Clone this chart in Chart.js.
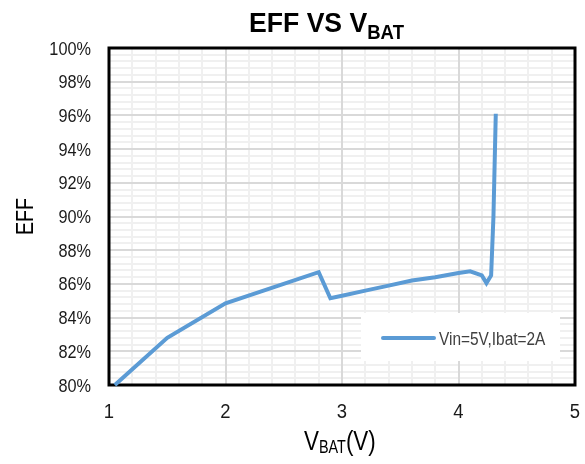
<!DOCTYPE html>
<html>
<head>
<meta charset="utf-8">
<script src="https://cdn.jsdelivr.net/npm/chart.js@4.4.1/dist/chart.umd.min.js"></script>
<style>
  html, body { margin: 0; padding: 0; background: #fff; }
  #wrap { width: 585px; height: 464px; position: relative; }
</style>
</head>
<body>
<div id="wrap"><canvas id="chart"></canvas></div>
<script>
// Efficiency vs battery voltage
const vbat = [1.05, 1.5, 2.0, 2.8, 2.9, 3.0, 3.2, 3.4, 3.6, 3.8, 4.0, 4.1, 4.2, 4.24, 4.28, 4.30, 4.32];
const eff  = [80.0, 82.8, 84.85, 86.7, 85.15, 85.3, 85.6, 85.9, 86.2, 86.4, 86.65, 86.75, 86.5, 86.05, 86.5, 90.0, 96.1];
const seriesLabel = 'Vin=5V,Ibat=2A';

const xTickLabels = [1, 2, 3, 4, 5];
const yTickLabels = [80, 82, 84, 86, 88, 90, 92, 94, 96, 98, 100];

// no narrow font installed, so text is squeezed horizontally by hand
const FONT = "'Liberation Sans', Arial, sans-serif";
const BLUE = '#5b9bd5';

// draw runs of text (optionally subscript) squeezed by sx; align: 0 left, 0.5 center, 1 right
function squeezed(ctx, x, y, sx, parts, align) {
  let w = 0;
  parts.forEach(p => { ctx.font = p.font; w += ctx.measureText(p.text).width; });
  ctx.save();
  ctx.translate(x - w * sx * (align || 0), y);
  ctx.scale(sx, 1);
  let cx = 0;
  parts.forEach(p => {
    ctx.font = p.font;
    ctx.fillText(p.text, cx, p.dy || 0);
    cx += ctx.measureText(p.text).width;
  });
  ctx.restore();
}

const decorations = {
  id: 'decorations',
  beforeDatasetsDraw(chart) {
    const { ctx, chartArea: a } = chart;
    ctx.save();
    ctx.strokeStyle = '#000';
    ctx.lineWidth = 3;
    ctx.strokeRect(a.left, a.top, a.right - a.left, a.bottom - a.top);
    ctx.restore();
  },
  afterDatasetsDraw(chart) {
    const { ctx } = chart;
    const xs = chart.scales.x, ys = chart.scales.y;
    ctx.save();
    ctx.textBaseline = 'alphabetic';

    // tick labels
    ctx.fillStyle = '#1a1a1a';
    yTickLabels.forEach(v => {
      squeezed(ctx, 91, ys.getPixelForValue(v) + 6.5, 0.88,
        [{ text: v + '%', font: '18.5px ' + FONT }], 1);
    });
    xTickLabels.forEach(v => {
      squeezed(ctx, xs.getPixelForValue(v), 418, 0.9,
        [{ text: String(v), font: '20.5px ' + FONT }], 0.5);
    });

    // legend box
    ctx.fillStyle = '#fff';
    ctx.fillRect(361, 313, 199, 48);
    ctx.strokeStyle = BLUE;
    ctx.lineWidth = 4;
    ctx.lineCap = 'round';
    ctx.beginPath();
    ctx.moveTo(383, 338);
    ctx.lineTo(434, 338);
    ctx.stroke();
    ctx.fillStyle = '#404040';
    squeezed(ctx, 439, 345, 0.83,
      [{ text: chart.data.datasets[0].label, font: '18.6px ' + FONT }], 0);

    // titles
    ctx.fillStyle = '#000';
    squeezed(ctx, 249, 32, 0.95, [
      { text: 'EFF VS V', font: 'bold 28px ' + FONT },
      { text: 'BAT', font: 'bold 19.5px ' + FONT, dy: 7 }
    ], 0);
    squeezed(ctx, 304, 450, 0.8, [
      { text: 'V', font: '28px ' + FONT },
      { text: 'BAT', font: '18px ' + FONT, dy: 3 },
      { text: '(V)', font: '28px ' + FONT }
    ], 0);
    ctx.translate(33, 216.5);
    ctx.rotate(-Math.PI / 2);
    squeezed(ctx, 0, 0, 0.82, [{ text: 'EFF', font: '24px ' + FONT }], 0.5);
    ctx.restore();
  }
};

// minor grid axes sit underneath the major ones
const gridAxis = (extra) => Object.assign({
  border: { display: false },
  grid: { drawTicks: false, lineWidth: 2 },
  ticks: { autoSkip: false, display: false }
}, extra);

new Chart(document.getElementById('chart'), {
  type: 'line',
  data: {
    datasets: [{
      label: seriesLabel,
      data: vbat.map((v, i) => ({ x: v, y: eff[i] })),
      borderColor: BLUE,
      borderWidth: 4,
      pointRadius: 0,
      tension: 0,
      clip: false
    }]
  },
  options: {
    responsive: true,
    maintainAspectRatio: false,
    animation: false,
    layout: { padding: { top: 48, right: 10, bottom: 0, left: 0 } },
    plugins: {
      legend: { display: false },
      tooltip: { enabled: false }
    },
    scales: {
      xMinor: gridAxis({
        type: 'linear', position: 'bottom', min: 1, max: 5, z: -1,
        afterFit(s) { s.height = 0; },
        grid: { drawTicks: false, lineWidth: 2, color: '#f0f0f0' },
        ticks: { stepSize: 0.2, autoSkip: false, display: false }
      }),
      yMinor: gridAxis({
        type: 'linear', position: 'left', min: 80, max: 100, z: -1,
        afterFit(s) { s.width = 0; },
        grid: { drawTicks: false, lineWidth: 2, color: '#f0f0f0' },
        ticks: { stepSize: 0.4, autoSkip: false, display: false }
      }),
      x: gridAxis({
        type: 'linear', position: 'bottom', min: 1, max: 5,
        afterFit(s) { s.height = 79; },
        grid: { drawTicks: false, lineWidth: 2, color: '#d9d9d9' },
        ticks: { stepSize: 1, autoSkip: false, display: false }
      }),
      y: gridAxis({
        type: 'linear', position: 'left', min: 80, max: 100,
        afterFit(s) { s.width = 109; },
        grid: { drawTicks: false, lineWidth: 2, color: '#d9d9d9' },
        ticks: { stepSize: 2, autoSkip: false, display: false }
      })
    }
  },
  plugins: [decorations]
});
</script>
</body>
</html>
